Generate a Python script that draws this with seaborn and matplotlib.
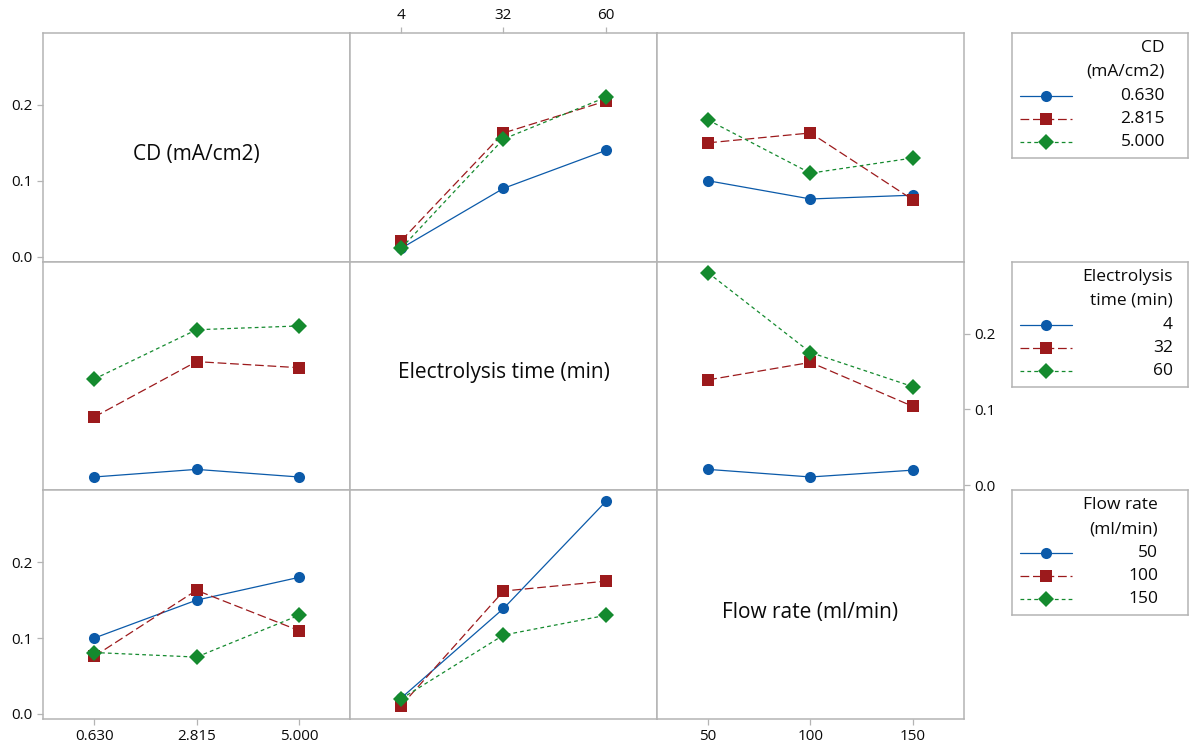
import numpy as np
import pandas as pd
import matplotlib
matplotlib.use('Agg')
import matplotlib.pyplot as plt
import seaborn as sns

# factor levels
cd_levels = ['0.630', '2.815', '5.000']
time_levels = ['4', '32', '60']
flow_levels = ['50', '100', '150']

# interaction means
# rows: CD level, columns: electrolysis time
cd_time = [[0.011, 0.090, 0.140],
           [0.021, 0.163, 0.205],
           [0.011, 0.155, 0.210]]
# rows: CD level, columns: flow rate
cd_flow = [[0.100, 0.076, 0.081],
           [0.150, 0.163, 0.075],
           [0.180, 0.110, 0.130]]
# rows: electrolysis time, columns: flow rate
time_flow = [[0.021, 0.011, 0.020],
             [0.139, 0.162, 0.104],
             [0.280, 0.175, 0.130]]

factor_names = ['CD (mA/cm2)', 'Electrolysis time (min)', 'Flow rate (ml/min)']
legend_titles = [['CD', '(mA/cm2)'], ['Electrolysis', 'time (min)'], ['Flow rate', '(ml/min)']]
levels = [cd_levels, time_levels, flow_levels]

colors = ['#0b5aa9', '#9c1a1c', '#148a2e']
dash_list = ['', (7, 3), (3, 2.5)]
marker_list = ['o', 's', 'D']

sns.set_style('white')
plt.rcParams['font.family'] = ['Open Sans', 'DejaVu Sans']

W, H = 1191, 746
fig = plt.figure(figsize=(W / 100, H / 100), dpi=100)

left, top = 43, 33
pw, ph = 307, 686 / 3
ylim = (-0.0066, 0.2947)
grey = '#b4b4b4'
txt = '#0a0a0a'
msize = 8


def long_df(mat, series_levels, x_levels):
    rows = []
    for i, s in enumerate(series_levels):
        for j, x in enumerate(x_levels):
            rows.append({'series': s, 'xpos': j, 'val': mat[i][j]})
    return pd.DataFrame(rows)


mat_cd_time = np.array(cd_time)
mat_cd_flow = np.array(cd_flow)
mat_time_flow = np.array(time_flow)

# (row, col) -> matrix with rows = series (row factor), cols = x (col factor)
panels = {
    (0, 1): mat_cd_time,
    (0, 2): mat_cd_flow,
    (1, 0): mat_cd_time.T,
    (1, 2): mat_time_flow,
    (2, 0): mat_cd_flow.T,
    (2, 1): mat_time_flow.T,
}

label_pos = {0: (0.5, 0.467), 1: (0.5, 0.515), 2: (0.5, 0.465)}

for r in range(3):
    for c in range(3):
        x0 = (left + c * pw) / W
        y0 = 1 - (top + (r + 1) * ph) / H
        ax = fig.add_axes([x0, y0, pw / W, ph / H])
        if (r, c) in panels:
            df = long_df(panels[(r, c)], levels[r], levels[c])
            sns.lineplot(data=df, x='xpos', y='val', hue='series', style='series',
                         hue_order=levels[r], style_order=levels[r],
                         palette=dict(zip(levels[r], colors)),
                         dashes=dict(zip(levels[r], dash_list)),
                         markers=dict(zip(levels[r], marker_list)),
                         markersize=msize, markeredgewidth=0, linewidth=0.9,
                         legend=False, ax=ax)
        else:
            lx, ly = label_pos[r]
            ax.text(lx, ly, factor_names[r], transform=ax.transAxes,
                    ha='center', va='center', fontsize=15, color=txt)
        ax.set_xlim(-0.5, 2.5)
        ax.set_ylim(*ylim)
        ax.set_xlabel('')
        ax.set_ylabel('')
        for sp in ax.spines.values():
            sp.set_color(grey)
            sp.set_linewidth(1.1)
        ax.tick_params(colors=grey, labelcolor=txt, labelsize=11,
                       length=4, width=0.9, direction='out')

        # x ticks: top of first row middle column, bottom of last row outer columns
        ax.set_xticks(range(3))
        ax.set_xticklabels(levels[c])
        if r == 0 and c == 1:
            ax.tick_params(axis='x', bottom=False, labelbottom=False, top=True, labeltop=True)
        elif r == 2 and c in (0, 2):
            ax.tick_params(axis='x', bottom=True, labelbottom=True)
        else:
            ax.tick_params(axis='x', bottom=False, labelbottom=False)

        # y ticks alternate left / right
        ax.set_yticks([0.0, 0.1, 0.2])
        ax.set_yticklabels(['0.0', '0.1', '0.2'])
        if c == 0 and r in (0, 2):
            ax.tick_params(axis='y', left=True, labelleft=True)
        elif c == 2 and r == 1:
            ax.tick_params(axis='y', left=False, labelleft=False, right=True, labelright=True)
        else:
            ax.tick_params(axis='y', left=False, labelleft=False)

# legend boxes on the right, one per row factor
leg_left, leg_w, leg_h = 1012, 176, 125
text_right = [153, 161, 146]
for r in range(3):
    ytop = top + r * ph
    lax = fig.add_axes([leg_left / W, 1 - (ytop + leg_h) / H, leg_w / W, leg_h / H])
    lax.set_xlim(0, leg_w)
    lax.set_ylim(leg_h, 0)
    lax.set_xticks([])
    lax.set_yticks([])
    for sp in lax.spines.values():
        sp.set_color(grey)
        sp.set_linewidth(1.1)
    t1, t2 = legend_titles[r]
    lax.text(text_right[r], 15, t1, ha='right', va='center', fontsize=12.5, color=txt)
    lax.text(text_right[r], 39, t2, ha='right', va='center', fontsize=12.5, color=txt)
    for k, lev in enumerate(levels[r]):
        yy = 63 + k * 23
        ln, = lax.plot([8, 60], [yy, yy], color=colors[k], linewidth=0.9)
        if dash_list[k]:
            ln.set_dashes(dash_list[k])
        lax.plot([34], [yy], marker=marker_list[k], color=colors[k],
                 markersize=msize, markeredgewidth=0)
        lax.text(text_right[r], yy, lev, ha='right', va='center', fontsize=12.5, color=txt)

fig.savefig('out.png', dpi=100)
